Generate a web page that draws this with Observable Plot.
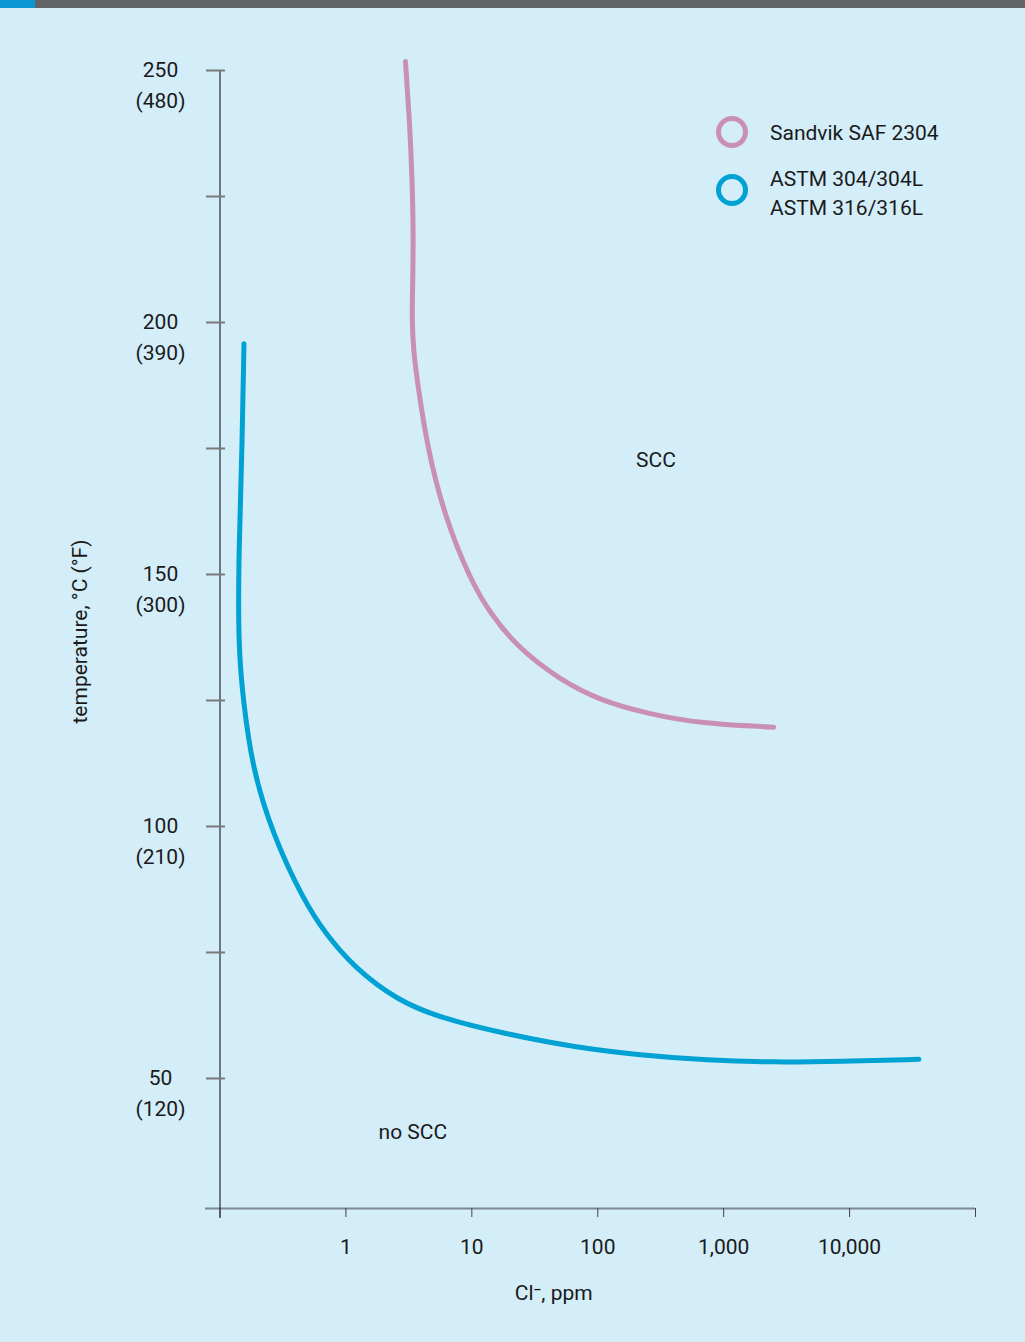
<!DOCTYPE html>
<html>
<head>
<meta charset="utf-8">
<script src="https://cdn.jsdelivr.net/npm/d3@7"></script>
<script src="https://cdn.jsdelivr.net/npm/@observablehq/plot@0.6"></script>
<style>
  html, body { margin: 0; padding: 0; }
  body { width: 1025px; height: 1342px; overflow: hidden; font-family: Roboto, "Liberation Sans", sans-serif; }
  #page { position: relative; width: 1025px; height: 1342px; background: #d3edf9; }
  #topbar { position: relative; height: 8px; background: #626466; }
  #topbar .accent { position: absolute; left: 0; top: 0; width: 35px; height: 8px; background: #0a96d4; }
  #chart { position: absolute; left: 0; top: 8px; }
  #legend { position: absolute; left: 716px; top: 116px; font-size: 21px; color: #1a1a1a; }
  .item { position: absolute; left: 0; white-space: nowrap; }
  .ring { position: absolute; left: 0; width: 22px; height: 22px; border-radius: 50%; border: 5.5px solid; }
  .label { position: absolute; left: 54px; line-height: 29px; }
</style>
</head>
<body>
<div id="page">
  <div id="topbar"><div class="accent"></div></div>
  <div id="chart"></div>
  <div id="legend"></div>
</div>
<script>
// Chloride concentration (ppm) vs temperature (°C) thresholds for stress corrosion cracking
const safCl = [2.97, 3.20, 3.36, 3.44, 3.38, 3.35, 3.44, 3.68, 4.42, 5.99, 9.76, 14.1, 22.9, 50.6, 105, 247, 655, 2500];
const safT  = [251.8, 240.1, 228.6, 216.3, 206.3, 200.4, 194.4, 188.5, 175.3, 162.0, 148.8, 142.2, 135.6, 129.0, 125.0, 122.4, 120.4, 119.7];

const astmCl = [0.155, 0.150, 0.141, 0.1395, 0.153, 0.180, 0.260, 0.462, 0.689, 1.155, 2.55, 5.64, 18, 64.5, 218, 740, 2500, 8470, 35500];
const astmT  = [195.8, 175.3, 155.4, 135.6, 125.0, 111.8, 98.6, 85.3, 78.7, 72.1, 65.5, 62.0, 58.9, 56.2, 54.6, 53.6, 53.2, 53.4, 53.8];

const seriesNames = ["Sandvik SAF 2304", "ASTM 304/304L\nASTM 316/316L"];
const seriesColors = ["#c98fb6", "#00a1d3"];

const yMajor = [50, 100, 150, 200, 250];
const yMajorF = ["(120)", "(210)", "(300)", "(390)", "(480)"];
const yMinor = [75, 125, 175, 225];
const xTicks = [0.1, 1, 10, 100, 1000, 10000, 100000];
const xTickLabels = ["", "1", "10", "100", "1,000", "10,000", ""];

const regionLabels = [
  {cl: 290, t: 172.6, text: "SCC"},
  {cl: 3.4, t: 39.3, text: "no SCC"}
];

const yMin = 24.2;
const ink = "#1a1a1a";

const saf = safCl.map((c, i) => ({cl: c, t: safT[i]}));
const astm = astmCl.map((c, i) => ({cl: c, t: astmT[i]}));
const yLabels = yMajor.map((c, i) => ({c, f: yMajorF[i]}));
const xLabelOf = new Map(xTicks.map((d, i) => [d, xTickLabels[i]]));

const chart = Plot.plot({
  width: 1025,
  height: 1334,
  marginLeft: 219.5,
  marginRight: 50,
  marginTop: 62,
  marginBottom: 134,
  style: {background: "transparent", fontFamily: "Roboto, 'Liberation Sans', sans-serif", fontSize: "21px", color: ink},
  x: {type: "log", domain: [0.1, 100000], axis: null},
  y: {domain: [yMin, 250], axis: null},
  marks: [
    // axis lines
    Plot.ruleY([yMin], {stroke: "#7d8a93", strokeWidth: 2, insetLeft: -14.5}),
    Plot.ruleX([0.1], {stroke: "#2a2a2a", strokeWidth: 1.2, insetBottom: -10}),
    // y ticks (major + minor), straddling the axis line
    Plot.axisY([...yMajor, ...yMinor], {tickSize: 19, dx: 5.5, stroke: "#7a7a7a", strokeWidth: 2, tickFormat: () => "", label: null}),
    // x ticks and labels
    Plot.axisX(xTicks, {tickSize: 9, tickPadding: 22, stroke: "#444", strokeWidth: 1, tickFormat: d => xLabelOf.get(d), fill: ink, fontSize: 21, label: null}),
    // y tick labels: °C over (°F)
    Plot.text(yLabels, {y: "c", text: d => String(d.c), frameAnchor: "left", dx: -59.5, textAnchor: "middle", fill: ink, fontSize: 21}),
    Plot.text(yLabels, {y: "c", text: "f", frameAnchor: "left", dx: -59.5, dy: 31, textAnchor: "middle", fill: ink, fontSize: 21}),
    // axis titles
    Plot.text(["temperature, °C (°F)"], {frameAnchor: "left", rotate: -90, dx: -139.5, dy: -8, textAnchor: "middle", lineAnchor: "middle", fill: ink, fontSize: 21}),
    Plot.text(["Cl\u207B, ppm"], {frameAnchor: "bottom", dx: -44, dy: 91, fill: ink, fontSize: 21}),
    // region labels
    Plot.text(regionLabels, {x: "cl", y: "t", text: "text", fill: ink, fontSize: 21}),
    // threshold curves
    Plot.line(saf, {x: "cl", y: "t", stroke: seriesColors[0], strokeWidth: 5, curve: "basis", strokeLinecap: "round"}),
    Plot.line(astm, {x: "cl", y: "t", stroke: seriesColors[1], strokeWidth: 5, curve: "basis", strokeLinecap: "round"})
  ]
});
document.getElementById("chart").appendChild(chart);

// legend
const legend = document.getElementById("legend");
const itemTops = [0, 58];
const labelTops = [3, -9];
seriesNames.forEach((name, i) => {
  const item = document.createElement("div");
  item.className = "item";
  item.style.top = itemTops[i] + "px";
  const ring = document.createElement("div");
  ring.className = "ring";
  ring.style.borderColor = seriesColors[i];
  item.appendChild(ring);
  const lab = document.createElement("div");
  lab.className = "label";
  lab.style.top = labelTops[i] + "px";
  lab.innerHTML = name.split("\n").map(l => `<div>${l}</div>`).join("");
  item.appendChild(lab);
  legend.appendChild(item);
});
</script>
</body>
</html>
